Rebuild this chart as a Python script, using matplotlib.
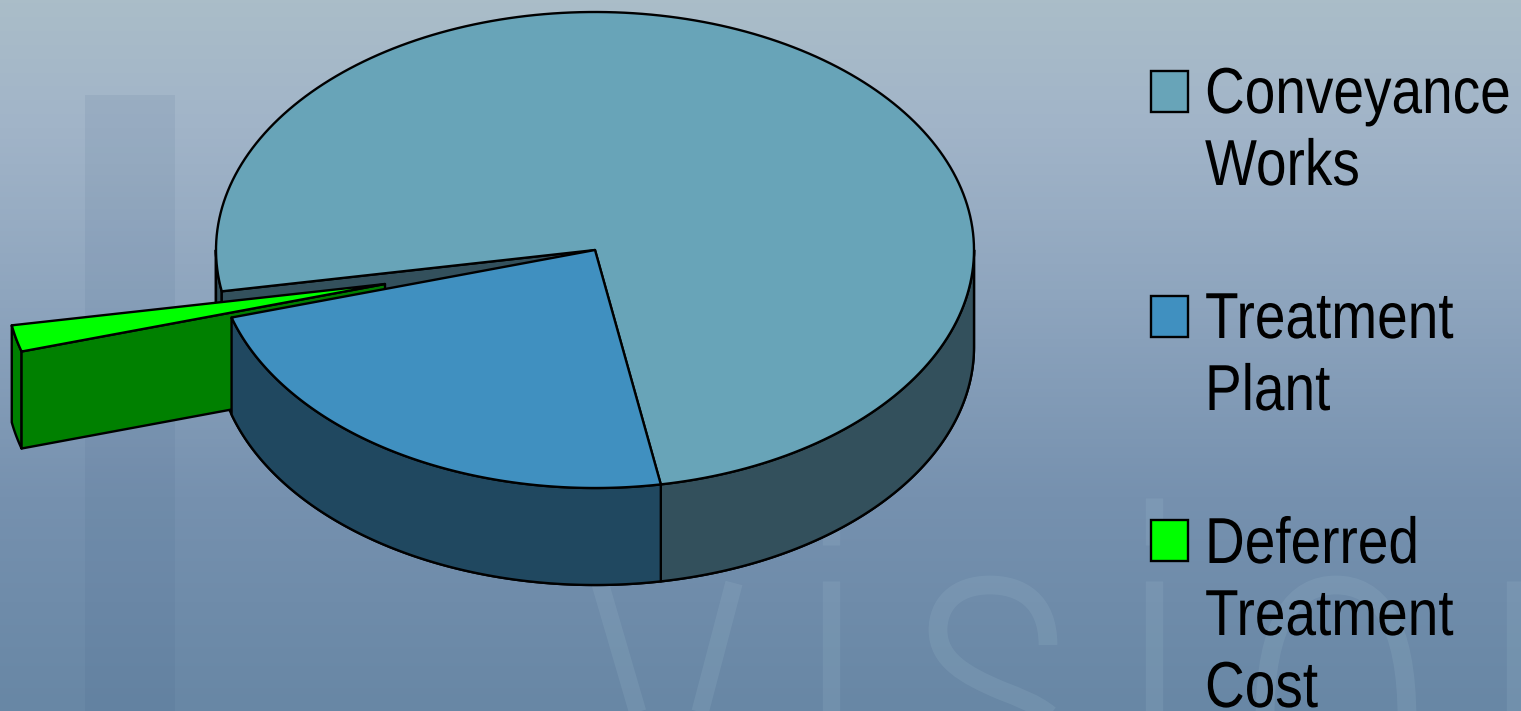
#!/usr/bin/env python

# 3D style pie of scheme cost shares, one slice pulled out, on a graded slide background

import numpy
import matplotlib
matplotlib.use('Agg')
import matplotlib.pyplot as plt
from matplotlib.colors import LinearSegmentedColormap
from matplotlib.patches import Polygon, PathPatch, Rectangle
from matplotlib.path import Path
from matplotlib.patheffects import AbstractPathEffect
from matplotlib.transforms import Affine2D

categories = ["Conveyance\nWorks", "Treatment\nPlant", "Deferred\nTreatment\nCost"]
shares = [75.0, 23.2, 1.8]

top_colours = ['#68a4b8', '#4090c0', '#00ff00']
side_colours = ['#33505c', '#204860', '#008000']

# Pie shape, in pixels
cx, cy = 595, 250
rx, ry = 379, 238
depth = 97
first_angle = 190.0
pull = (-210, 34)

W, H = 1521, 711
fig = plt.figure(figsize=(W/100, H/100), dpi=100)
ax = fig.add_axes([0, 0, 1, 1], xlim=(0, W), ylim=(H, 0))
ax.set_axis_off()

# Slide background
stops = [(0.0, (170, 189, 200)), (0.18, (161, 180, 200)), (0.42, (142, 165, 190)),
         (0.7, (118, 145, 175)), (1.0, (104, 135, 165))]
bg = LinearSegmentedColormap.from_list('slide', [(p, tuple(v/255 for v in c)) for p, c in stops])
ax.imshow(numpy.linspace(0, 1, 711).reshape(-1, 1), cmap=bg, extent=(0, W, H, 0),
          aspect='auto', zorder=0)

# Faint background artwork: one dark bar and the pale letter strokes
ax.add_patch(Rectangle((85, 95), 90, 616, facecolor='#3a5a80', alpha=0.09, edgecolor='none', zorder=1))

pale = dict(color='#b5d5e0', alpha=0.12, lw=12.5, solid_capstyle='butt', zorder=1)
def stroke(xs, ys):
    ax.plot(xs, ys, **pale)

def curve(verts):
    codes = [Path.MOVETO] + [Path.CURVE4] * (len(verts) - 1)
    ax.add_patch(PathPatch(Path(verts, codes), facecolor='none', edgecolor='#b5d5e0',
                           alpha=0.12, lw=13.5, capstyle='butt', zorder=1))

stroke([600, 640], [583, 720])
stroke([734, 698], [583, 720])
for x in (831, 1154):
    stroke([x, x], [581, 720])
    stroke([x, x], [498, 545])
stroke([1515, 1515], [581, 720])
curve([(1048, 645), (1048, 600), (1020, 585), (990, 585),
       (955, 585), (938, 605), (938, 630),
       (938, 660), (965, 675), (1000, 690),
       (1020, 698), (1035, 703), (1050, 715)])
curve([(1265, 720), (1265, 620), (1295, 585), (1336, 585),
       (1377, 585), (1407, 620), (1407, 720)])

# Slice angles run clockwise from the first angle
ends = first_angle - numpy.cumsum(shares) * 3.6
starts = numpy.concatenate(([first_angle], ends[:-1]))

def rim(a0, a1, ox=0, oy=0):
    t = numpy.radians(numpy.linspace(a0, a1, 200))
    return numpy.column_stack((cx + ox + rx*numpy.cos(t), cy + oy - ry*numpy.sin(t)))

def face(pts, colour, z):
    ax.add_patch(Polygon(pts, closed=True, facecolor=colour, edgecolor='black',
                         lw=1.7, joinstyle='round', zorder=z))

def drop(pts):
    return pts + numpy.array([0, depth])

def side(a0, a1, colour, z, ox=0, oy=0):
    # Only the part of a rim that faces the viewer shows
    lo, hi = min(a0, a1), max(a0, a1)
    for k in (-360, 0, 360):
        l, h = max(lo, 180 + k), min(hi, 360 + k)
        if l < h:
            edge = rim(l, h, ox, oy)
            face(numpy.vstack((edge, drop(edge)[::-1])), colour, z)

def cut(angle, colour, z, ox=0, oy=0):
    apex = numpy.array([[cx + ox, cy + oy]])
    outer = rim(angle, angle, ox, oy)[:1]
    line = numpy.vstack((apex, outer))
    face(numpy.vstack((line, drop(line)[::-1])), colour, z)

def top(a0, a1, colour, z, ox=0, oy=0):
    face(numpy.vstack(([[cx + ox, cy + oy]], rim(a0, a1, ox, oy))), colour, z)

# Back to front: conveyance, pulled slice, treatment
side(starts[0], ends[0], side_colours[0], 3)
side(starts[0] + 360, 180, side_colours[0], 3)
cut(starts[0], side_colours[0], 3)
top(starts[0], ends[0], top_colours[0], 4)

side(starts[2], ends[2], side_colours[2], 5, *pull)
cut(starts[2], side_colours[2], 5, *pull)
top(starts[2], ends[2], top_colours[2], 6, *pull)

side(starts[1], ends[1], side_colours[1], 7)
top(starts[1], ends[1], top_colours[1], 8)
# Front edge of the conveyance wall sits over the treatment wall
ax.plot([rim(ends[0], ends[0])[0, 0]] * 2,
        [rim(ends[0], ends[0])[0, 1], rim(ends[0], ends[0])[0, 1] + depth],
        color='black', lw=1.2, zorder=9)

# Legend font is tall and narrow: stretch the glyphs upward from the baseline
class Tall(AbstractPathEffect):
    def draw_path(self, renderer, gc, tpath, affine, rgbFace=None):
        renderer.draw_path(gc, tpath, Affine2D().scale(0.99, 1.17) + affine, rgbFace)

box_y = [71, 296, 520]
text_y = [113, 338, 563]
for label, colour, by, ty in zip(categories, top_colours, box_y, text_y):
    ax.add_patch(Rectangle((1151, by), 37, 41, facecolor=colour, edgecolor='black', lw=1.7, zorder=10))
    for n, line in enumerate(label.split("\n")):
        ax.text(1205, ty + n*72, line, fontsize=40, color='black', va='baseline', ha='left',
                family='Liberation Sans', path_effects=[Tall()], zorder=10)

fig.savefig('out.png', dpi=100)
